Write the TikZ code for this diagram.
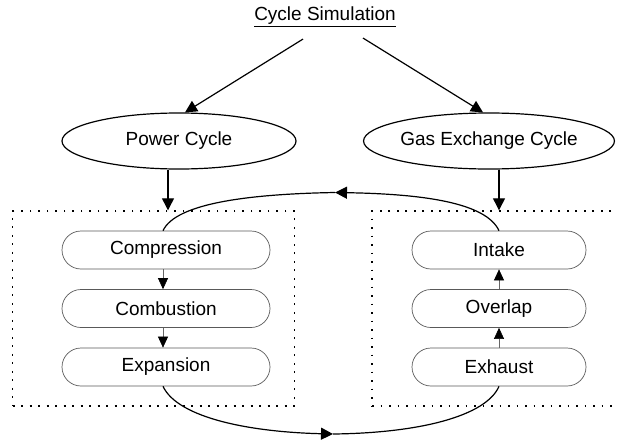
\documentclass[tikz,border=0pt]{standalone}
\usepackage{fontspec}
\setmainfont{Liberation Sans}
\usetikzlibrary{arrows.meta,shapes.geometric,shapes.misc}
\begin{document}
\begin{tikzpicture}[x=1pt,y=-1pt,
  font=\fontsize{19}{22}\selectfont,
  arr/.style={line width=1.2pt,-{Triangle[length=12pt,width=12pt]}},
  smallarr/.style={line width=0.6pt,draw=black!60,-{Triangle[length=11pt,width=10pt,fill=black,color=black]}},
  oval/.style={ellipse,draw,line width=1.2pt,inner sep=0pt},
  stage/.style={rounded rectangle,draw=black!65,line width=0.7pt,minimum height=38pt,inner sep=0pt},
  zone/.style={draw,line width=1.4pt,dash pattern=on 1.8pt off 6.7pt,inner sep=0pt}
]
\useasboundingbox (0,0) rectangle (617,439);
\clip (0,0) rectangle (617,439);
\node[inner sep=0pt] (title) at (325,17) {\underline{Cycle Simulation}};
\node[oval,minimum width=234pt,minimum height=56pt] (power) at (179,141) {Power Cycle};
\node[oval,minimum width=232pt,minimum height=56pt] (gas) at (489,141) {Gas Exchange Cycle};
\node[zone,minimum width=281.6pt,minimum height=195pt] (lbox) at (153.5,308.5) {};
\node[zone,minimum width=260pt,minimum height=195pt] (rbox) at (502,308.5) {};
\node[stage,minimum width=208pt] (comp) at (166,250) {Compression};
\node[stage,minimum width=208pt] (comb) at (166,308.5) {Combustion};
\node[stage,minimum width=208pt] (expa) at (166,367) {Expansion};
\node[stage,minimum width=174pt] (intk) at (499,250) {Intake};
\node[stage,minimum width=174pt] (ovlp) at (499,308.5) {Overlap};
\node[stage,minimum width=174pt] (exht) at (499,367) {Exhaust};
\coordinate (topmid) at (335,192.5);
\coordinate (botmid) at (333,434);
\draw[arr] ([xshift=-22pt,yshift=-12pt]title.south) -- ([xshift=6pt]power.north);
\draw[arr] ([xshift=38pt,yshift=-11pt]title.south) -- ([xshift=-6pt]gas.north);
\draw[arr] ([xshift=-11pt]power.south) -- ([xshift=-11pt]power.south |- lbox.north);
\draw[arr] ([xshift=10pt]gas.south) -- ([xshift=10pt]gas.south |- rbox.north);
\draw[smallarr] ([xshift=-3pt]comp.south) -- ([xshift=-3pt]comb.north);
\draw[smallarr] ([xshift=-3pt]comb.south) -- ([xshift=-3pt]expa.north);
\draw[smallarr] (exht.north) -- (ovlp.south);
\draw[smallarr] (ovlp.north) -- (intk.south);
\draw[arr] (intk.north) .. controls (486,203) and (425,194) .. (topmid);
\draw[line width=1.2pt] (topmid) .. controls (250,194) and (176,203) .. ([xshift=-3pt]comp.north);
\draw[arr] ([xshift=-3pt]expa.south) .. controls (178,418) and (250,432) .. (botmid);
\draw[line width=1.2pt] (botmid) .. controls (420,433) and (486,416) .. (exht.south);
\end{tikzpicture}
\end{document}
